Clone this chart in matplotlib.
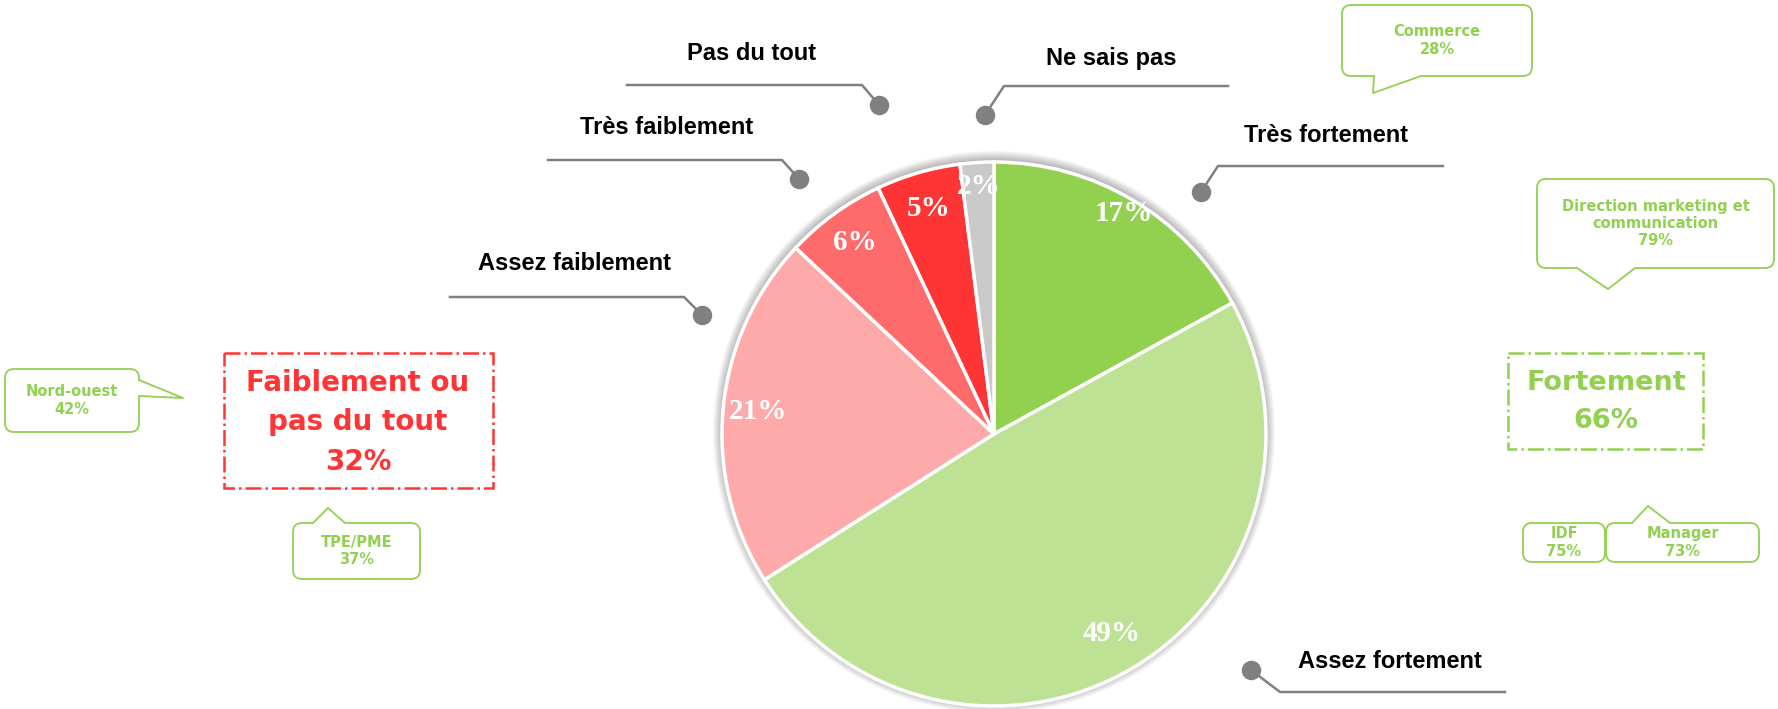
"""
pie chart : faible / fort, with callouts
"""

import numpy as np
import matplotlib.pyplot as plt
from matplotlib.patches import FancyBboxPatch, Rectangle, Circle

# data
categories = ['Très fortement', 'Assez fortement', 'Assez faiblement',
              'Très faiblement', 'Pas du tout', 'Ne sais pas']
values = [17, 49, 21, 6, 5, 2]
colors = ['#92D050', '#BDE294', '#FFAAAA', '#FF6B6B', '#FF3434', '#C9C9C9']

group_low = ['Faiblement ou', 'pas du tout', '32%']
group_high = ['Fortement', '66%']

callout_names = ['Nord-ouest\n42%', 'TPE/PME\n37%', 'Commerce\n28%',
                 'Direction marketing et\ncommunication\n79%',
                 'IDF\n75%', 'Manager\n73%']

GREEN = '#92D050'
RED = '#FF3434'
GREY = '#808080'
W, H = 1778, 709

plt.rcParams['font.family'] = ['DejaVu Sans']

fig = plt.figure(figsize=(W / 100, H / 100), dpi=100)
ax = fig.add_axes([0, 0, 1, 1])

# pie (y axis is inverted so counterclock + start -90 = clockwise from top)
cx, cy, R = 994, 434, 272

# soft shadow
for k in range(9):
    ax.add_patch(Circle((cx, cy - 2), R + 9 - k, color='black', alpha=0.03, lw=0, zorder=0))

wedges, _ = ax.pie(values, colors=colors, startangle=-90, counterclock=True,
                   center=(cx, cy), radius=R, frame=True,
                   wedgeprops=dict(edgecolor='white', linewidth=2.5))
ax.set_xlim(0, W)
ax.set_ylim(H, 0)
ax.axis('off')

label_dist = [0.94, 0.85, 0.87, 0.87, 0.865, 0.91]
for w, v, d in zip(wedges, values, label_dist):
    mid = np.deg2rad((w.theta1 + w.theta2) / 2)
    tx = cx + d * R * np.cos(mid)
    ty = cy + d * R * np.sin(mid)
    t = ax.text(tx, ty, '%d%%' % v, ha='center', va='center', color='white',
                fontsize=21, fontweight='bold', family='Liberation Serif', zorder=5)
    t.set_clip_path(w)

# leader lines for category labels
label_text_pos = [(1326, 136), (1390, 662), (574, 263), (667, 127), (752, 54), (1111, 59)]
leader_pts = [
    [(1201, 192), (1218, 166), (1443, 166)],
    [(1251, 670), (1280, 692), (1505, 692)],
    [(450, 297), (684, 297), (702, 315)],
    [(548, 160), (782, 160), (799, 179)],
    [(627, 85), (862, 85), (879, 105)],
    [(985, 115), (1004, 86), (1228, 86)],
]
dot_idx = [0, 0, -1, -1, -1, 0]
for name, tp, pts, di in zip(categories, label_text_pos, leader_pts, dot_idx):
    xs, ys = zip(*pts)
    ax.plot(xs, ys, color=GREY, lw=1.8, zorder=3)
    ax.plot(pts[di][0], pts[di][1], 'o', color=GREY, ms=13, zorder=4)
    ax.text(tp[0], tp[1], name, ha='center', va='center', fontsize=17,
            fontweight='bold', family='Liberation Sans', color='black')

# group boxes
ax.add_patch(Rectangle((224, 353), 269, 135, fill=False, ec=RED, lw=1.8, ls='-.'))
for s, y in zip(group_low, [383, 422, 462]):
    ax.text(358, y, s, ha='center', va='center', fontsize=20, fontweight='bold', color=RED)

ax.add_patch(Rectangle((1508, 353), 195, 96, fill=False, ec=GREEN, lw=1.8, ls='-.'))
for s, y in zip(group_high, [383, 421]):
    ax.text(1606, y, s, ha='center', va='center', fontsize=19.5, fontweight='bold', color=GREEN)

# callouts : box (x0, y0, x1, y1), tail (base1, tip, base2)
callout_boxes = [(5, 369, 139, 432), (293, 523, 420, 579), (1342, 5, 1532, 76),
                 (1537, 179, 1774, 268), (1523, 523, 1605, 562), (1606, 523, 1759, 562)]
callout_tails = [[(139, 380), (183, 398), (139, 396)],
                 [(313, 523), (328, 508), (345, 523)],
                 [(1374, 76), (1373, 93), (1421, 76)],
                 [(1577, 268), (1608, 289), (1635, 268)],
                 None,
                 [(1632, 523), (1648, 506), (1670, 523)]]

for txt, (x0, y0, x1, y1), tail in zip(callout_names, callout_boxes, callout_tails):
    ax.add_patch(FancyBboxPatch((x0, y0), x1 - x0, y1 - y0,
                                boxstyle='round,pad=0,rounding_size=9',
                                fc='white', ec=GREEN, lw=1.3, zorder=2))
    if tail is not None:
        (bx1, by1), (tx, ty), (bx2, by2) = tail
        ax.plot([bx1, bx2], [by1, by2], color='white', lw=2.5, zorder=2.5, solid_capstyle='butt')
        ax.plot([bx1, tx, bx2], [by1, ty, by2], color=GREEN, lw=1.3, zorder=2.6)
    ax.text((x0 + x1) / 2, (y0 + y1) / 2, txt, ha='center', va='center', fontsize=10.5,
            fontweight='bold', color=GREEN, linespacing=1.2, zorder=3)

fig.savefig('out.png', dpi=100)
plt.close()
